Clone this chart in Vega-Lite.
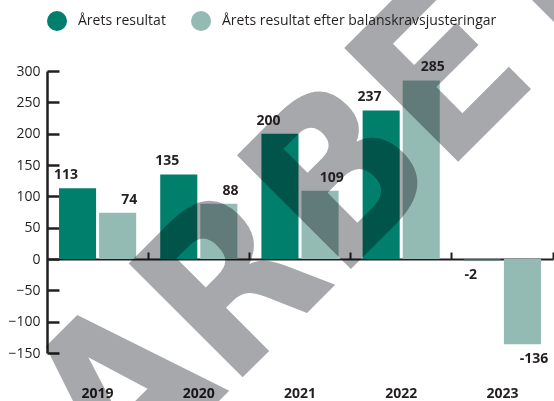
{
  "$schema": "https://vega.github.io/schema/vega-lite/v6.json",
  "width": 506,
  "height": 282,
  "autosize": {"type": "none"},
  "padding": {"left": 47, "top": 71, "right": 1, "bottom": 48},
  "config": {"view": {"stroke": null}, "font": "Open Sans"},
  "datasets": {
    "bars": [
      {"year": "2019", "serie": "Årets resultat", "v": 113},
      {"year": "2020", "serie": "Årets resultat", "v": 135},
      {"year": "2021", "serie": "Årets resultat", "v": 200},
      {"year": "2022", "serie": "Årets resultat", "v": 237},
      {"year": "2023", "serie": "Årets resultat", "v": -2},
      {"year": "2019", "serie": "Årets resultat efter balanskravsjusteringar", "v": 74},
      {"year": "2020", "serie": "Årets resultat efter balanskravsjusteringar", "v": 88},
      {"year": "2021", "serie": "Årets resultat efter balanskravsjusteringar", "v": 109},
      {"year": "2022", "serie": "Årets resultat efter balanskravsjusteringar", "v": 285},
      {"year": "2023", "serie": "Årets resultat efter balanskravsjusteringar", "v": -136}
    ],
    "wm": [{"px": 74, "v": -383, "t": "ARBETSMATERIAL"}]
  },
  "encoding": {
    "y": {
      "field": "v", "type": "quantitative",
      "scale": {"domain": [-150, 300], "nice": false, "zero": false},
      "axis": {
        "title": null, "values": [-150, -100, -50, 0, 50, 100, 150, 200, 250, 300],
        "domain": true, "domainColor": "#231f20", "domainWidth": 2.5,
        "ticks": true, "tickColor": "#231f20", "tickWidth": 2.5, "tickSize": -12,
        "labelFontSize": 14, "labelColor": "#231f20", "labelPadding": 19,
        "labelOverlap": false, "grid": false
      }
    }
  },
  "layer": [
    {
      "data": {"name": "bars"},
      "mark": {"type": "bar"},
      "encoding": {
        "x": {
          "field": "year", "type": "nominal",
          "scale": {"domain": ["2019", "2020", "2021", "2022", "2023"], "paddingInner": 0, "paddingOuter": 0},
          "axis": {
            "orient": "bottom", "offset": -94, "title": null, "labels": false,
            "domain": true, "domainColor": "#231f20", "domainWidth": 2,
            "ticks": true, "tickColor": "#231f20", "tickWidth": 2, "tickSize": -7,
            "bandPosition": 1, "grid": false
          }
        },
        "xOffset": {
          "field": "serie", "type": "nominal",
          "sort": ["Årets resultat", "Årets resultat efter balanskravsjusteringar"],
          "scale": {"domain": ["Årets resultat", "Årets resultat efter balanskravsjusteringar"], "range": [0, 101.2], "paddingInner": 0.075, "paddingOuter": 0.3}
        },
        "color": {
          "field": "serie", "type": "nominal",
          "sort": ["Årets resultat", "Årets resultat efter balanskravsjusteringar"],
          "scale": {"range": ["#007f6d", "#93bbb4"]},
          "legend": {
            "orient": "top", "direction": "horizontal", "title": null,
            "symbolType": "circle", "symbolSize": 400, "symbolStrokeWidth": 0,
            "symbolOpacity": 1,
            "labelFontSize": 14, "labelColor": "#231f20", "labelOffset": 11,
            "columnPadding": 25, "padding": 0, "offset": 40, "labelLimit": 400
          }
        }
      }
    },
    {
      "data": {"name": "wm"},
      "mark": {
        "type": "text", "angle": 315, "fontSize": 221, "fontWeight": "bold",
        "align": "left", "baseline": "alphabetic", "fill": "#a7a8ab", "blend": "multiply",
        "font": "DejaVu Sans Condensed"
      },
      "encoding": {
        "x": {"field": "px", "type": "quantitative", "scale": {"domain": [0, 506], "nice": false, "zero": false}, "axis": null},
        "text": {"field": "t"}
      }
    },
    {
      "data": {"name": "bars"},
      "transform": [{"filter": "datum.v >= 0"}],
      "mark": {"type": "text", "baseline": "bottom", "dy": -6, "fontSize": 14, "fontWeight": "bold", "fill": "#231f20"},
      "encoding": {
        "x": {
          "field": "year", "type": "nominal",
          "scale": {"domain": ["2019", "2020", "2021", "2022", "2023"], "paddingInner": 0, "paddingOuter": 0},
          "axis": {
            "orient": "bottom", "title": null, "domain": false, "ticks": false,
            "labelFontSize": 14, "labelFontWeight": "bold", "labelColor": "#231f20",
            "labelPadding": 33, "labelAngle": 0, "grid": false
          }
        },
        "xOffset": {
          "field": "serie", "type": "nominal",
          "sort": ["Årets resultat", "Årets resultat efter balanskravsjusteringar"],
          "scale": {"domain": ["Årets resultat", "Årets resultat efter balanskravsjusteringar"], "range": [0, 101.2], "paddingInner": 0.075, "paddingOuter": 0.3}
        },
        "text": {"field": "v"}
      }
    },
    {
      "data": {"name": "bars"},
      "transform": [{"filter": "datum.v < 0"}],
      "mark": {"type": "text", "baseline": "top", "dy": 8, "fontSize": 14, "fontWeight": "bold", "fill": "#231f20"},
      "encoding": {
        "x": {
          "field": "year", "type": "nominal",
          "scale": {"domain": ["2019", "2020", "2021", "2022", "2023"], "paddingInner": 0, "paddingOuter": 0},
          "axis": null
        },
        "xOffset": {
          "field": "serie", "type": "nominal",
          "sort": ["Årets resultat", "Årets resultat efter balanskravsjusteringar"],
          "scale": {"domain": ["Årets resultat", "Årets resultat efter balanskravsjusteringar"], "range": [0, 101.2], "paddingInner": 0.075, "paddingOuter": 0.3}
        },
        "text": {"field": "v"}
      }
    }
  ],
  "resolve": {"axis": {"x": "independent"}, "scale": {"x": "independent", "xOffset": "independent"}}
}
